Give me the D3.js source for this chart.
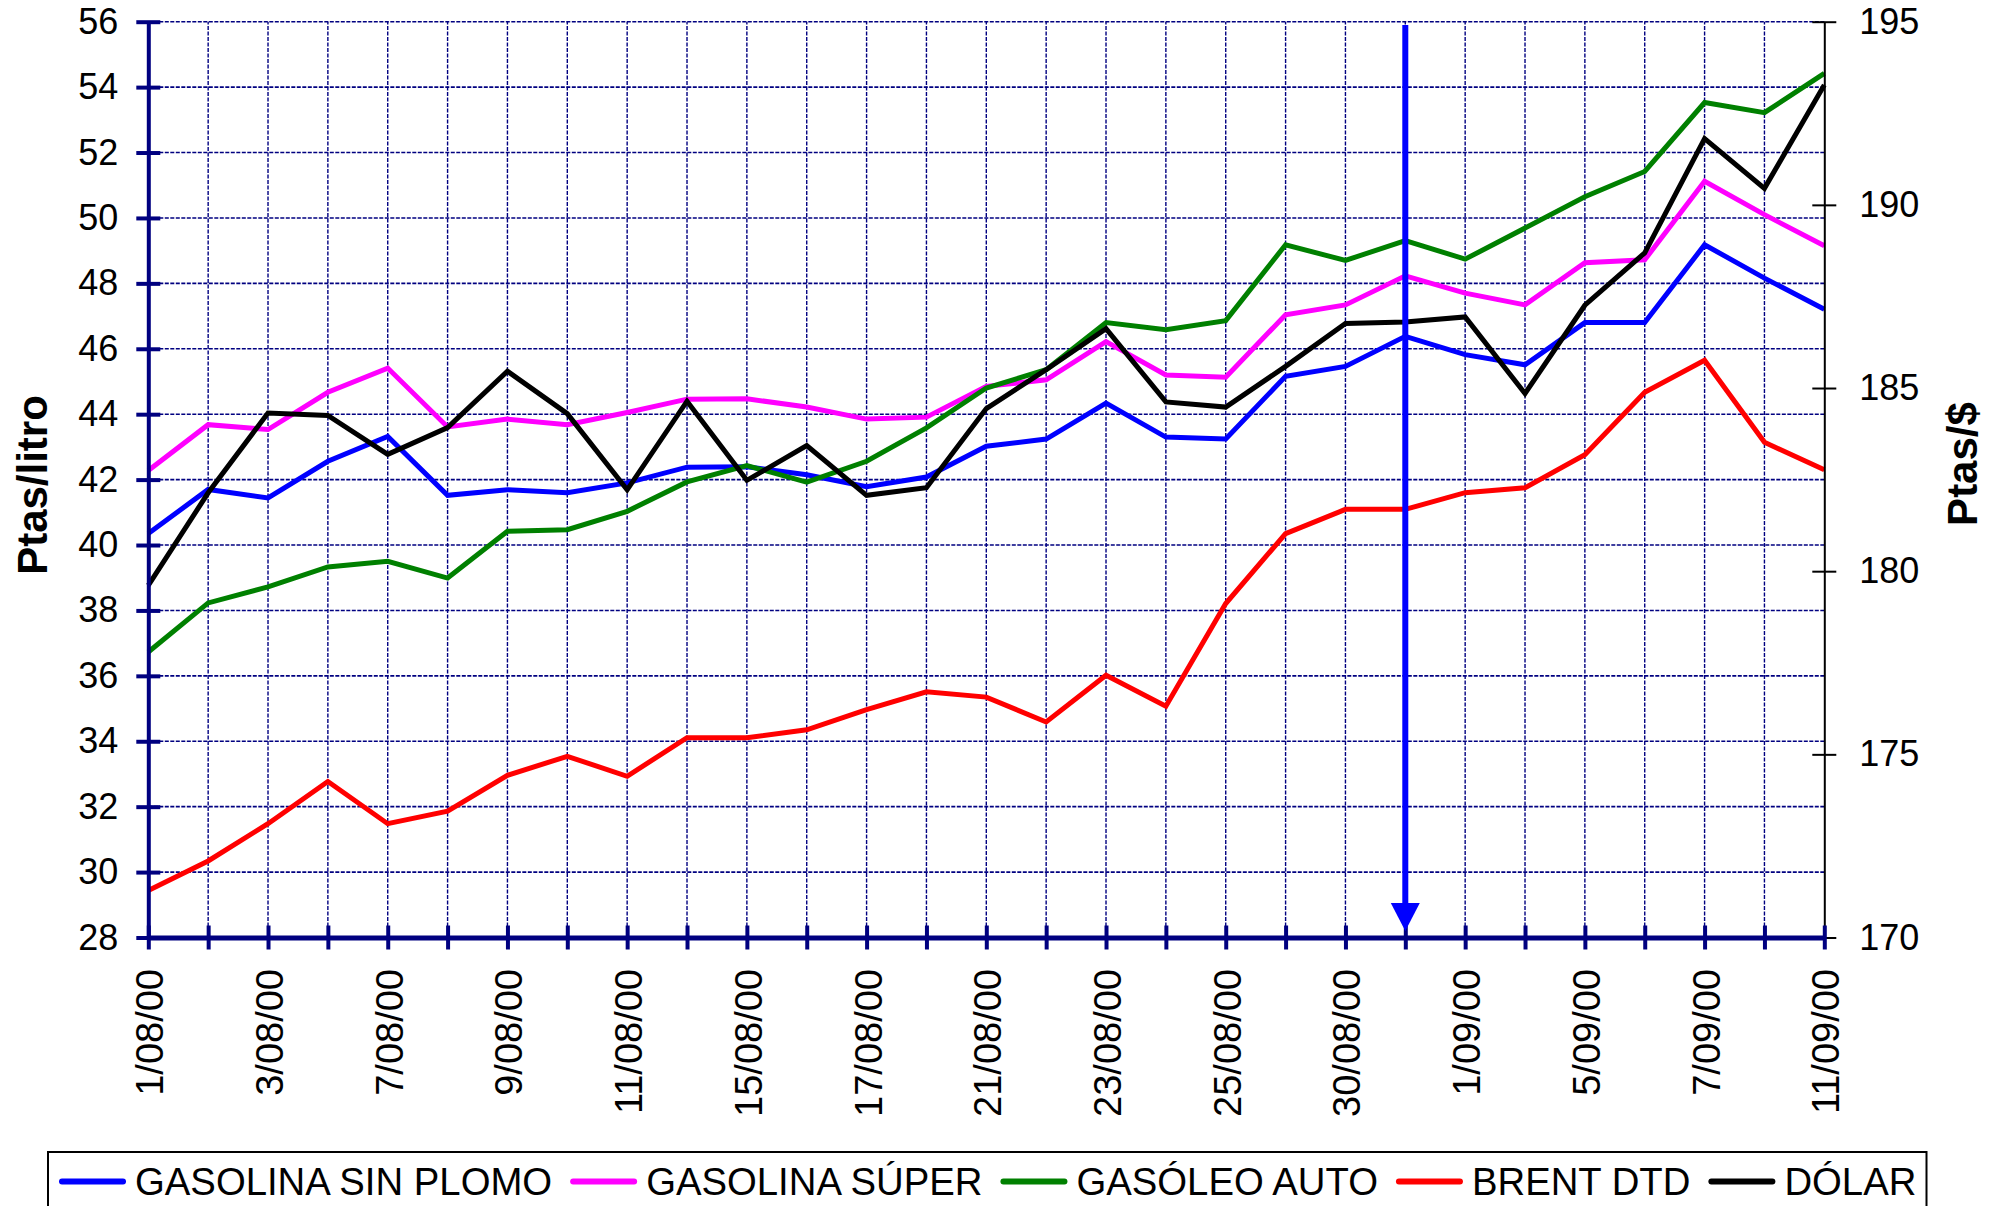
<!DOCTYPE html>
<html lang="es">
<head>
<meta charset="utf-8">
<title>Carburantes, Brent y dólar</title>
<style>
  * { margin:0; padding:0; }
  body { background:#fff; }
  svg text { font-family: "Liberation Sans", Arial, sans-serif; fill:#000; }
</style>
<script src="https://d3js.org/d3.v7.min.js"></script>
</head>
<body>
<div id="chart"></div>
<script>
// fechas (eje X); solo se rotulan las de etiquetas
var fechas = ["1/08/00","2/08/00","3/08/00","4/08/00","7/08/00","8/08/00","9/08/00","10/08/00",
  "11/08/00","14/08/00","15/08/00","16/08/00","17/08/00","18/08/00","21/08/00","22/08/00",
  "23/08/00","24/08/00","25/08/00","29/08/00","30/08/00","31/08/00","1/09/00","4/09/00",
  "5/09/00","6/09/00","7/09/00","8/09/00","11/09/00"];
var etiquetas = ["1/08/00","3/08/00","7/08/00","9/08/00","11/08/00","15/08/00","17/08/00",
  "21/08/00","23/08/00","25/08/00","30/08/00","1/09/00","5/09/00","7/09/00","11/09/00"];

// Ptas/litro
var sinPlomo = [40.35,41.7,41.44,42.56,43.32,41.52,41.69,41.6,41.9,42.38,42.39,42.15,41.78,42.08,
  43.02,43.24,44.34,43.3,43.24,45.16,45.46,46.38,45.82,45.51,46.8,46.8,49.18,48.16,47.21];
var superG = [42.28,43.68,43.53,44.67,45.41,43.61,43.85,43.68,44.05,44.46,44.47,44.22,43.85,43.91,
  44.85,45.05,46.22,45.2,45.13,47.04,47.34,48.23,47.7,47.34,48.63,48.72,51.12,50.1,49.15];
var gasoleo = [36.73,38.23,38.72,39.33,39.5,38.99,40.42,40.47,41.03,41.93,42.43,41.92,42.56,43.58,
  44.8,45.36,46.8,46.58,46.86,49.18,48.7,49.31,48.74,49.69,50.65,51.42,53.53,53.22,54.42];
var brent = [29.44,30.34,31.48,32.77,31.48,31.86,32.96,33.54,32.93,34.11,34.11,34.35,34.97,35.51,
  35.35,34.59,36.02,35.07,38.21,40.35,41.09,41.09,41.6,41.75,42.76,44.67,45.65,43.14,42.3];
// Ptas/$
var dolar = [179.61,182.14,184.32,184.25,183.19,183.92,185.46,184.3,182.22,184.64,182.48,183.43,
  182.07,182.28,184.44,185.5,186.62,184.62,184.48,185.59,186.76,186.8,186.94,184.85,187.26,
  188.69,191.81,190.45,193.27];

var nombres = ["GASOLINA SIN PLOMO","GASOLINA SÚPER","GASÓLEO AUTO","BRENT DTD","DÓLAR"];
var colores = ["#0000ff","#ff00ff","#008000","#ff0000","#000000"];
var flechaFecha = "31/08/00";

var W = 2004, H = 1206;
var navy = "#000080";

var svg = d3.select("#chart").append("svg").attr("width",W).attr("height",H);
svg.append("rect").attr("width",W).attr("height",H).attr("fill","#fff");

var x = d3.scalePoint().domain(fechas).range([148.3, 1824.3]);
var yL = d3.scaleLinear().domain([28,56]).range([937.5, 21.7]);
var yR = d3.scaleLinear().domain([170,195]).range([937.5, 21.7]);

// rejilla
var grid = svg.append("g");
grid.selectAll(".gh").data(d3.range(30,57,2)).enter().append("line")
  .attr("x1",x.range()[0]).attr("x2",x.range()[1])
  .attr("y1",function(d){return yL(d)}).attr("y2",function(d){return yL(d)})
  .attr("stroke",navy).attr("stroke-width",1.6).attr("stroke-dasharray","4,1.5");
grid.selectAll(".gv").data(fechas.slice(1,-1)).enter().append("line")
  .attr("x1",function(d){return x(d)}).attr("x2",function(d){return x(d)})
  .attr("y1",yL(28)).attr("y2",yL(56))
  .attr("stroke",navy).attr("stroke-width",1.4).attr("stroke-dasharray","4,1.5");

// series
var series = [sinPlomo, superG, gasoleo, brent, dolar];
series.forEach(function(s,k){
  var esc = (k==4) ? yR : yL;
  var linea = d3.line()
    .x(function(d,i){return x(fechas[i])})
    .y(function(d){return esc(d)});
  svg.append("path").datum(s)
    .attr("d",linea)
    .attr("fill","none")
    .attr("stroke",colores[k])
    .attr("stroke-width",5)
    .attr("stroke-linejoin","miter");
});

// eje izquierdo
var gL = svg.append("g").attr("transform","translate("+x.range()[0]+",0)")
  .call(d3.axisLeft(yL).tickValues(d3.range(28,57,2)).tickSize(12).tickSizeOuter(0).tickPadding(18));
gL.select(".domain").attr("stroke",navy).attr("stroke-width",4);
gL.selectAll(".tick line").attr("x1",12).attr("x2",-12).attr("stroke",navy).attr("stroke-width",4);
gL.selectAll(".tick text").style("font-size","36px").attr("fill","#000");

// eje derecho
var gR = svg.append("g").attr("transform","translate("+x.range()[1]+",0)")
  .call(d3.axisRight(yR).tickValues(d3.range(170,196,5)).tickSize(12).tickSizeOuter(0).tickPadding(23));
gR.select(".domain").attr("stroke","#000").attr("stroke-width",2);
gR.selectAll(".tick line").attr("x1",-12).attr("x2",12).attr("stroke","#000").attr("stroke-width",2);
gR.selectAll(".tick text").style("font-size","36px").attr("fill","#000");

// eje inferior
var gB = svg.append("g").attr("transform","translate(0,"+yL(28)+")")
  .call(d3.axisBottom(x).tickSize(12).tickSizeOuter(0)
    .tickFormat(function(d){return etiquetas.indexOf(d)>=0 ? d : ""}));
gB.select(".domain").attr("stroke",navy).attr("stroke-width",5);
gB.selectAll(".tick line").attr("y1",-12).attr("y2",12).attr("stroke",navy).attr("stroke-width",4);
gB.selectAll(".tick text")
  .attr("y",0).attr("x",-31.5).attr("dy","0.38em")
  .attr("transform","rotate(-90)")
  .style("text-anchor","end").style("font-size","38px").attr("fill","#000");

// títulos
svg.append("text").attr("transform","translate(46.5,485) rotate(-90)")
  .attr("text-anchor","middle").style("font-size","42px").style("font-weight","bold")
  .text("Ptas/litro");
svg.append("text").attr("transform","translate(1977,464) rotate(-90)")
  .attr("text-anchor","middle").style("font-size","42px").style("font-weight","bold")
  .text("Ptas/$");

// flecha
var fx = x(flechaFecha);
svg.append("line").attr("x1",fx).attr("x2",fx).attr("y1",25).attr("y2",905)
  .attr("stroke","#0000ff").attr("stroke-width",6);
svg.append("polygon")
  .attr("points",[[fx-14.5,903],[fx+14.5,903],[fx,931]].map(function(p){return p.join(",")}).join(" "))
  .attr("fill","#0000ff");

// leyenda
var leg = svg.append("g");
leg.append("rect").attr("x",48).attr("y",1152).attr("width",1878.5).attr("height",90)
  .attr("fill","#fff").attr("stroke","#000").attr("stroke-width",2);
var cx = 59;
nombres.forEach(function(n,k){
  leg.append("line").attr("x1",cx+3).attr("x2",cx+64).attr("y1",1181.5).attr("y2",1181.5)
    .attr("stroke",colores[k]).attr("stroke-width",6).attr("stroke-linecap","round");
  var t = leg.append("text").attr("x",cx+76).attr("y",1195).style("font-size","38.3px").text(n);
  cx = cx + 76 + t.node().getComputedTextLength() + 18;
});
</script>
</body>
</html>
